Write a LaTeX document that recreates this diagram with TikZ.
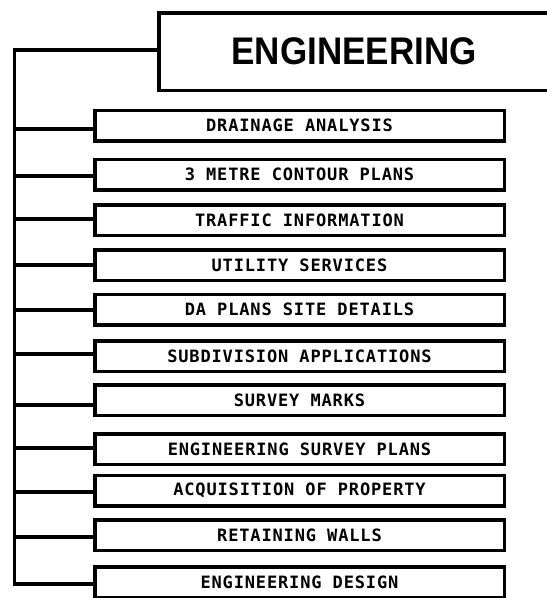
\documentclass[tikz,border=0pt]{standalone}
\usepackage{graphicx}
\usepackage{fontspec}
\setmainfont{Liberation Sans}
\newfontfamily\itemfont[LetterSpace=5]{DejaVu Sans Mono}
\newfontfamily\titlefont{Liberation Sans}
\begin{document}
\begin{tikzpicture}[x=1pt,y=-1pt,
  itembox/.style={draw, line width=3.5pt, rectangle, minimum width=409.5pt,
    minimum height=30.5pt, inner sep=0pt, font=\itemfont\bfseries\fontsize{17}{17}\selectfont},
  topbox/.style={draw, line width=3.5pt, rectangle, minimum width=390.5pt,
    minimum height=77.5pt, inner sep=0pt, font=\titlefont\bfseries\fontsize{35}{35}\selectfont},
  conn/.style={line width=3.5pt, line join=miter}]
\useasboundingbox (0,0) rectangle (547,598);
\node[topbox] (top) at (354,51.5) {\scalebox{1}[1.1]{ENGINEERING}};
\node[itembox] (b1) at (299.5,125.5) {DRAINAGE ANALYSIS};
\node[itembox] (b2) at (299.5,174.5) {3 METRE CONTOUR PLANS};
\node[itembox] (b3) at (299.5,220) {TRAFFIC INFORMATION};
\node[itembox] (b4) at (299.5,265) {UTILITY SERVICES};
\node[itembox] (b5) at (299.5,309.5) {DA PLANS SITE DETAILS};
\node[itembox] (b6) at (299.5,356) {SUBDIVISION APPLICATIONS};
\node[itembox] (b7) at (299.5,400) {SURVEY MARKS};
\node[itembox] (b8) at (299.5,449) {ENGINEERING SURVEY PLANS};
\node[itembox] (b9) at (299.5,490.5) {ACQUISITION OF PROPERTY};
\node[itembox] (b10) at (299.5,535) {RETAINING WALLS};
\node[itembox] (b11) at (299.5,582) {ENGINEERING DESIGN};
\coordinate (t0) at (14.5,50);
\coordinate (j1) at (14.5,129);
\coordinate (j2) at (14.5,176);
\coordinate (j3) at (14.5,219);
\coordinate (j4) at (14.5,265);
\coordinate (j5) at (14.5,310);
\coordinate (j6) at (14.5,354);
\coordinate (j7) at (14.5,405);
\coordinate (j8) at (14.5,448);
\coordinate (j9) at (14.5,492);
\coordinate (j10) at (14.5,537);
\coordinate (j11) at (14.5,584);
\draw[conn] (top.west |- t0) -- (t0) -- (j11) -- (j11 -| b11.west);
\foreach \i in {1,...,10} {
  \draw[conn] (j\i) -- (j\i -| b\i.west);
}
\end{tikzpicture}
\end{document}
